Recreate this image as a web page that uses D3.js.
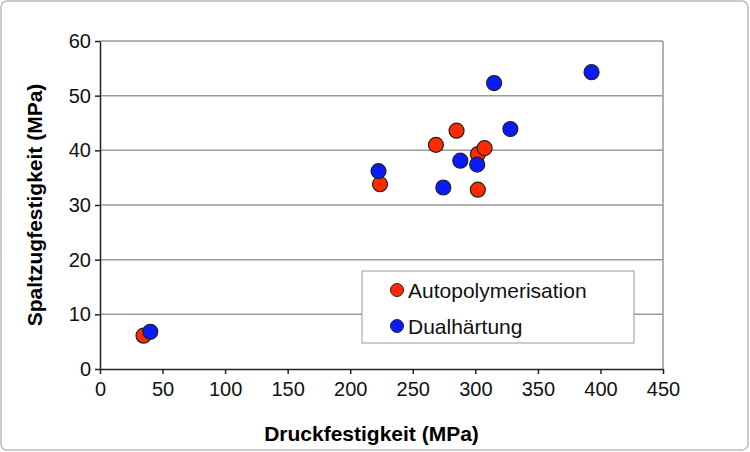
<!DOCTYPE html><html><head><meta charset="utf-8"><script src="https://cdn.jsdelivr.net/npm/d3@7"></script>
<style>body{margin:0;background:#fff}</style></head><body><svg id="c" width="750" height="452"></svg>
<script>
const xTicks=[0,50,100,150,200,250,300,350,400,450];
const yTicks=[0,10,20,30,40,50,60];
const autoX=[34.8,223.8,268.5,285,302,307.4,302];
const autoY=[6.1,33.8,41.0,43.6,39.3,40.4,32.8];
const dualX=[40.2,222.6,274.4,288,301.5,315,328,392.9];
const dualY=[6.8,36.2,33.2,38.1,37.4,52.3,43.9,54.3];
const series=[{name:"Autopolymerisation",color:"#ff2a00",xs:autoX,ys:autoY},{name:"Dualhärtung",color:"#0a1aff",xs:dualX,ys:dualY}];
const svg=d3.select("#c");
svg.append("rect").attr("x",1).attr("y",1).attr("width",747).attr("height",449).attr("rx",6).attr("fill","#fff").attr("stroke","#bbb").attr("stroke-width",1.5);
const L=100,R=663,T=41,B=369;
const x=d3.scaleLinear().domain([0,450]).range([L,R]);
const y=d3.scaleLinear().domain([0,60]).range([B,T]);
const g=svg.append("g");
g.selectAll(".gl").data(yTicks.slice(1)).join("line").attr("x1",L).attr("x2",R).attr("y1",d=>y(d)).attr("y2",d=>y(d)).attr("stroke","#999").attr("stroke-width",1.5);
g.append("line").attr("x1",R).attr("x2",R).attr("y1",T).attr("y2",B).attr("stroke","#999").attr("stroke-width",1.5);
const xa=g.append("g").attr("transform",`translate(0,${B})`).call(d3.axisBottom(x).tickValues(xTicks).tickSize(5).tickSizeOuter(0));
const ya=g.append("g").attr("transform",`translate(${L},0)`).call(d3.axisLeft(y).tickValues(yTicks).tickSize(5).tickSizeOuter(0));
[xa,ya].forEach(a=>{a.attr("font-size",null);a.selectAll("path,line").attr("stroke","#222").attr("stroke-width",1.5);a.selectAll("text").style("font-family","Liberation Sans, Arial").style("font-size","20px").attr("fill","#111");});
xa.selectAll("text").attr("y",10).attr("dy","0.85em");
ya.selectAll("text").attr("x",-9);
series.forEach(s=>{g.selectAll(null).data(s.xs.map((v,i)=>[v,s.ys[i]])).join("circle").attr("cx",d=>x(d[0])).attr("cy",d=>y(d[1])).attr("r",7.5).attr("fill",s.color).attr("stroke","#222").attr("stroke-width",1.2);});
const lg=g.append("g");
lg.append("rect").attr("x",362).attr("y",271).attr("width",272).attr("height",72).attr("fill","#fff").attr("stroke","#999");
series.forEach((s,i)=>{lg.append("circle").attr("cx",397).attr("cy",290+i*36).attr("r",6.5).attr("fill",s.color).attr("stroke","#222");
lg.append("text").attr("x",408).attr("y",298+i*36).text(s.name).style("font-family","Liberation Sans, Arial").style("font-size","21px").attr("fill","#111");});
svg.append("text").attr("x",(L+R)/2-10).attr("y",441).attr("text-anchor","middle").style("font-family","Liberation Sans, Arial").attr("font-weight","bold").style("font-size","21px").text("Druckfestigkeit (MPa)");
svg.append("text").attr("transform",`translate(42,${(T+B)/2}) rotate(-90)`).attr("text-anchor","middle").style("font-family","Liberation Sans, Arial").attr("font-weight","bold").style("font-size","21px").text("Spaltzugfestigkeit (MPa)");
</script></body></html>
